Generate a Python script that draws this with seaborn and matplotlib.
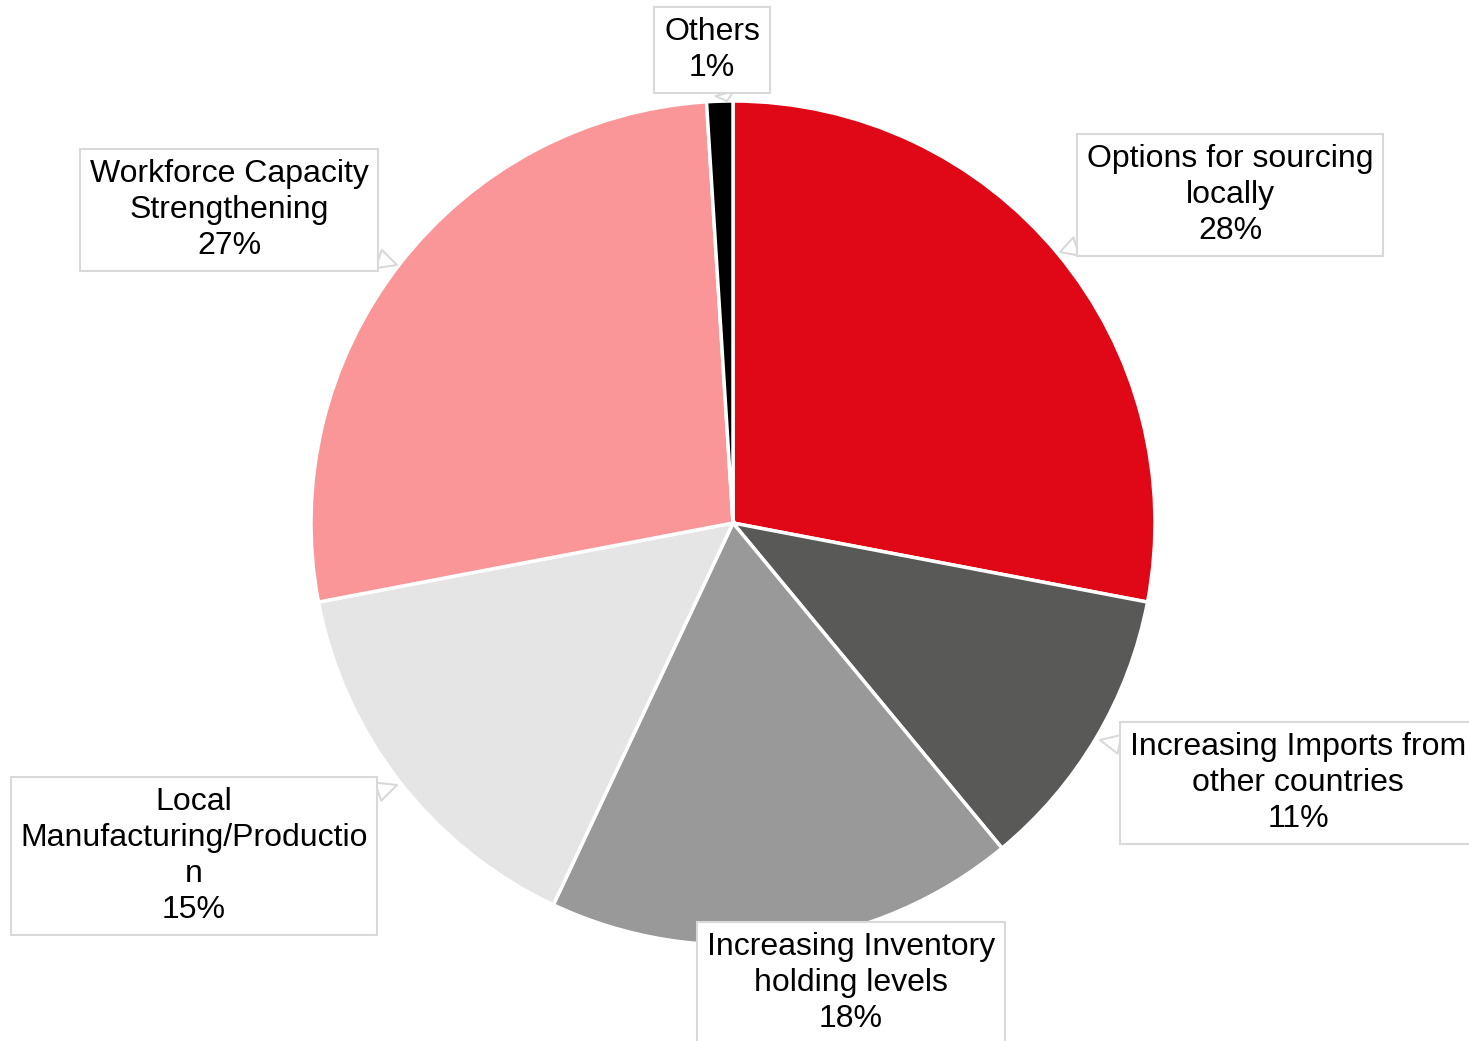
import matplotlib
matplotlib.use("Agg")
import matplotlib.pyplot as plt
import seaborn as sns

# data
labels = ["Options for sourcing\nlocally", "Increasing Imports from\nother countries",
          "Increasing Inventory\nholding levels", "Local\nManufacturing/Productio\nn",
          "Workforce Capacity\nStrengthening", "Others"]
shares = [28, 11, 18, 15, 27, 1]
colors = ["#E00816", "#595957", "#999999", "#E5E5E5", "#FB9698", "#000000"]

# layout (image pixel coords, y measured from top)
W, H = 1469, 1041
center_px = (733, 523)
radius_px = 422
box_centers = [(1230, 195), (1298, 783), (851, 983), (194, 856), (229, 210), (712, 50)]
tips = [(1060, 252), (1100, 740), None, (397, 785), (397, 265), (727, 101)]

sns.set_theme(style="white")
plt.rcParams["font.family"] = ["Liberation Sans", "DejaVu Sans"]

fig = plt.figure(figsize=(W / 100, H / 100), dpi=100)
ax = fig.add_axes([0, 0, 1, 1])

ax.pie(shares, colors=colors, startangle=90, counterclock=False,
       center=(center_px[0], H - center_px[1]), radius=radius_px,
       wedgeprops=dict(edgecolor="white", linewidth=2.5))
ax.set_xlim(0, W)
ax.set_ylim(0, H)
ax.set_aspect("equal")
ax.axis("off")

for lab, val, (bx, by), tip in zip(labels, shares, box_centers, tips):
    txt = f"{lab}\n{val}%"
    bbox = dict(boxstyle="square,pad=0.3", fc="white", ec="#D9D9D9", lw=1.5)
    kw = dict(ha="center", va="center", fontsize=23, linespacing=1.27,
              color="black", bbox=bbox, zorder=5)
    if tip is None:
        ax.text(bx, H - by, txt, **kw)
    else:
        ax.annotate(txt, xy=(tip[0], H - tip[1]), xytext=(bx, H - by),
                    arrowprops=dict(arrowstyle="wedge,tail_width=0.6,shrink_factor=0.5",
                                    fc="white", ec="#D9D9D9", lw=1.5,
                                    shrinkA=0, shrinkB=0),
                    **kw)

fig.savefig("out.png", dpi=100)
